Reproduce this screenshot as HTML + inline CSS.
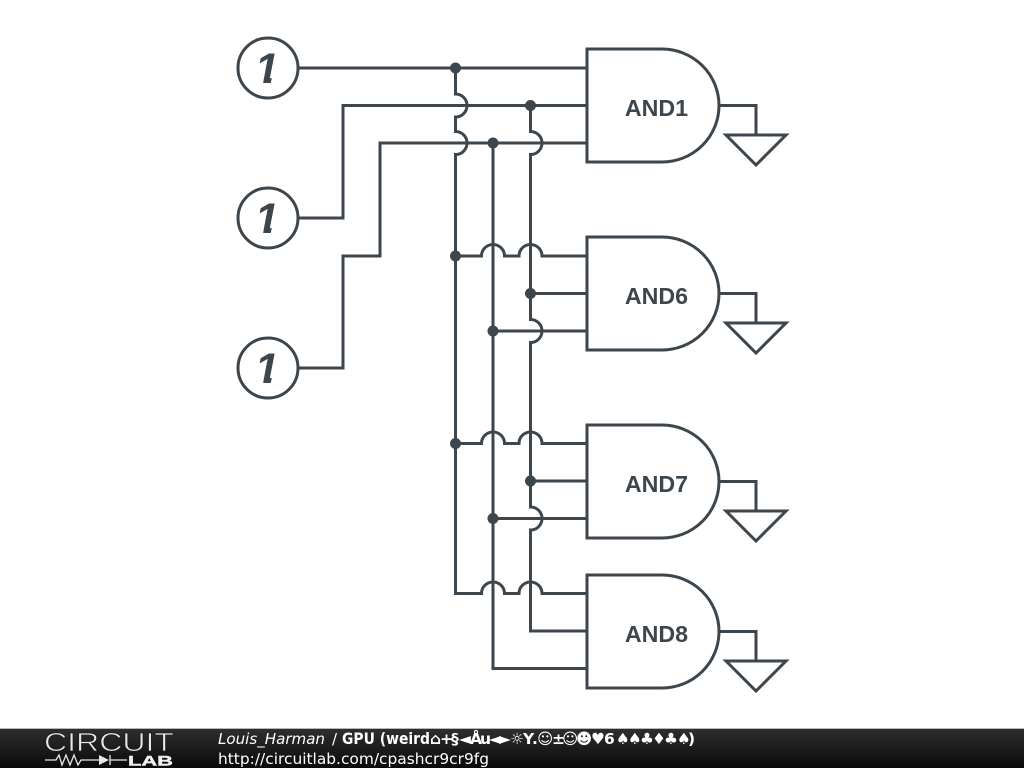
<!DOCTYPE html>
<html>
<head>
<meta charset="utf-8">
<style>
html,body{margin:0;padding:0;background:#fff;width:1024px;height:768px;overflow:hidden}
svg{position:absolute;left:0;top:0}
</style>
</head>
<body>
<svg width="1024" height="768" viewBox="0 0 1024 768" xmlns="http://www.w3.org/2000/svg">
<defs>
<linearGradient id="bar" x1="0" y1="0" x2="0" y2="1">
<stop offset="0" stop-color="#2e2e2e"/><stop offset="1" stop-color="#0a0a0a"/>
</linearGradient>
<clipPath id="one"><polygon points="258,50 278,50 270.500,84 263,84 265.500,68 258,68"/></clipPath>
<g id="gate">
<path d="M587 49H662A57 56.500 0 0 1 662 162H587Z"/>
<path d="M719 105.500H756V135"/>
<path d="M726 135H786L756 165Z"/>
</g>
</defs>
<rect width="1024" height="768" fill="#fff"/>
<g fill="none" stroke="#3d464c" stroke-width="3">
<circle cx="268" cy="68" r="30"/>
<circle cx="268" cy="218" r="30"/>
<circle cx="268" cy="368" r="30"/>
<use href="#gate"/>
<use href="#gate" y="188"/>
<use href="#gate" y="376"/>
<use href="#gate" y="526"/>
<path d="M298 68H587"/>
<path d="M298 218H343V105.500H587"/>
<path d="M298 368H343V256H380V143H587"/>
<path d="M455.500 68V94A11.500 11.500 0 0 1 455.500 117V131.500A11.500 11.500 0 0 1 455.500 154.500V593.500H481.500A11.500 11.500 0 0 1 504.500 593.500H519A11.500 11.500 0 0 1 542 593.500H587"/>
<path d="M493 143V668.500H587"/>
<path d="M530.500 105.500V131.500A11.500 11.500 0 0 1 530.500 154.500V319.500A11.500 11.500 0 0 1 530.500 342.500V507A11.500 11.500 0 0 1 530.500 530V631H587"/>
<path d="M455.500 256H481.500A11.500 11.500 0 0 1 504.500 256H519A11.500 11.500 0 0 1 542 256H587"/>
<path d="M455.500 443.500H481.500A11.500 11.500 0 0 1 504.500 443.500H519A11.500 11.500 0 0 1 542 443.500H587"/>
<path d="M530.500 293.500H587M493 331H587M530.500 481H587M493 518.500H587"/>
</g>
<g fill="#3d464c">
<circle cx="455.500" cy="68" r="5.500"/>
<circle cx="530.500" cy="105.500" r="5.500"/>
<circle cx="493" cy="143" r="5.500"/>
<circle cx="455.500" cy="256" r="5.500"/>
<circle cx="530.500" cy="293.500" r="5.500"/>
<circle cx="493" cy="331" r="5.500"/>
<circle cx="455.500" cy="443.500" r="5.500"/>
<circle cx="530.500" cy="481" r="5.500"/>
<circle cx="493" cy="518.500" r="5.500"/>
</g>
<g fill="#3d464c" font-family="'Liberation Sans',sans-serif" font-weight="bold">
<g font-size="23.200" text-anchor="middle">
<text x="656.500" y="116">AND1</text>
<text x="656.500" y="304">AND6</text>
<text x="656.500" y="492">AND7</text>
<text x="656.500" y="642">AND8</text>
</g>
<g font-size="43" font-style="italic" text-anchor="middle">
<g><text x="267" y="83" clip-path="url(#one)">1</text></g>
<g transform="translate(0,150)"><text x="267" y="83" clip-path="url(#one)">1</text></g>
<g transform="translate(0,300)"><text x="267" y="83" clip-path="url(#one)">1</text></g>
</g>
</g>
<rect x="0" y="729" width="1024" height="39" fill="url(#bar)"/>
<rect x="0" y="728" width="1024" height="1" fill="#b8b8b8"/>
<text x="44" y="751" fill="#e8e8e8" stroke="#1c1c1c" stroke-width="0.700" paint-order="fill" font-family="'Liberation Sans',sans-serif" font-size="26" textLength="130" lengthAdjust="spacingAndGlyphs">CIRCUIT</text>
<g fill="none" stroke="#e8e8e8" stroke-width="1.300">
<path d="M45 760H56L59 755L62 765L66 755L70 765L74 755L78 765L81 760H99M110 760H127"/>
<path d="M110 755V765"/>
</g>
<path d="M99 755L109 760L99 765Z" fill="#e8e8e8"/>
<text x="128" y="765.500" fill="#f0f0f0" stroke="#f0f0f0" stroke-width="0.400" font-family="'Liberation Sans',sans-serif" font-weight="bold" font-size="14" textLength="45" lengthAdjust="spacingAndGlyphs">LAB</text>
<g font-family="'DejaVu Sans',sans-serif" fill="#fff">
<text x="218" y="744" font-size="15" font-style="italic" textLength="107" lengthAdjust="spacingAndGlyphs">Louis_Harman</text>
<text x="332" y="744" font-size="15">/</text>
<text x="342" y="744" font-size="16" font-weight="bold" textLength="88" lengthAdjust="spacingAndGlyphs">GPU (weird</text>
<text y="744" font-size="15.500" font-weight="bold" x="430 440 451 459 470 480 489 499 510 523 532 537 552 562 576 591 604 616 628 640 652 664 677 688">⌂+§◄Åu◄►☼Y.☺±☺☻♥6♠♠♣♦♣♠)</text>
<text x="218" y="764" font-size="15" textLength="271" lengthAdjust="spacingAndGlyphs">http://circuitlab.com/cpashcr9cr9fg</text>
</g>
</svg>
</body>
</html>
